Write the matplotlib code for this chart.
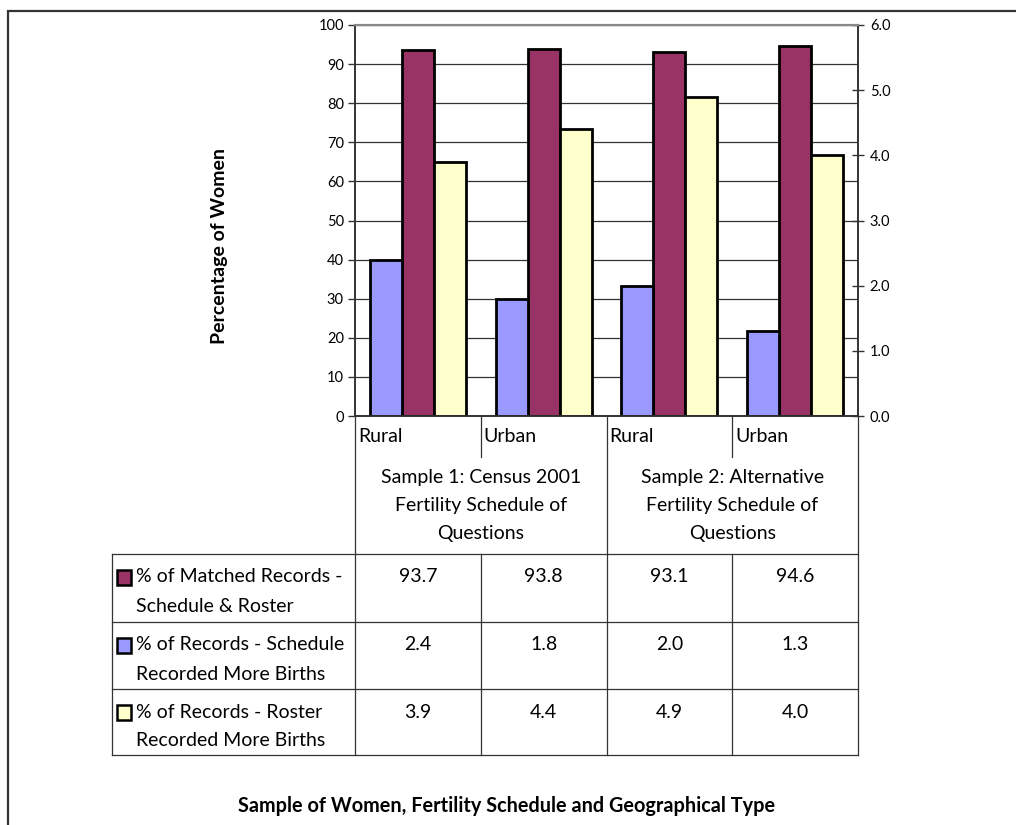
import numpy as np
import matplotlib.pyplot as plt
from matplotlib.transforms import blended_transform_factory
from matplotlib.patches import Rectangle

plt.rcParams['font.family'] = ['Lato', 'DejaVu Sans']

# data
places = ['Rural', 'Urban', 'Rural', 'Urban']
samples = ['Sample 1: Census 2001\nFertility Schedule of\nQuestions',
           'Sample 2: Alternative\nFertility Schedule of\nQuestions']
matched = [93.7, 93.8, 93.1, 94.6]          # left axis (%)
sched_more = [2.4, 1.8, 2.0, 1.3]           # right axis
roster_more = [3.9, 4.4, 4.9, 4.0]          # right axis
series_names = ['% of Matched Records -\nSchedule & Roster',
                '% of Records - Schedule\nRecorded More Births',
                '% of Records - Roster\nRecorded More Births']
colors = ['#993366', '#9999FF', '#FFFFCC']

W, H = 1016, 825
fig = plt.figure(figsize=(W / 100, H / 100), dpi=100)

# pixel overlay for frame, table and titles
ov = fig.add_axes([0, 0, 1, 1])
ov.set_xlim(0, W)
ov.set_ylim(H, 0)
ov.axis('off')

# plot area in pixels
L, R, T, B = 355, 858, 25, 416
ax = fig.add_axes([L / W, 1 - B / H, (R - L) / W, (B - T) / H])
ax2 = ax.twinx()

x = np.arange(len(places))
bw = 0.254
ax2.bar(x - bw, sched_more, bw, color=colors[1], edgecolor='black', linewidth=2)
ax.bar(x, matched, bw, color=colors[0], edgecolor='black', linewidth=2, zorder=3)
ax2.bar(x + bw, roster_more, bw, color=colors[2], edgecolor='black', linewidth=2)

ax.set_xlim(-0.5, len(places) - 0.5)
ax.set_ylim(0, 100)
ax.set_yticks(np.arange(0, 101, 10))
ax2.set_ylim(0, 6)
ax2.set_yticks(np.arange(0, 6.1, 1))
ax2.set_yticklabels(['%.1f' % v for v in np.arange(0, 6.1, 1)])
ax.set_xticks([])
ax.yaxis.grid(True, color='#333333', linewidth=0.9)
ax.set_axisbelow(True)
ax.tick_params(axis='y', direction='out', length=5, width=1, color='#333333',
               labelsize=10.5, pad=3)
ax2.tick_params(axis='y', direction='inout', length=9, width=1, color='#333333',
                labelsize=10.5, pad=4)
for a in (ax, ax2):
    for side in ('left', 'right', 'bottom'):
        a.spines[side].set_color('#333333')
        a.spines[side].set_linewidth(1.2)
    a.spines['top'].set_color('#888888')
    a.spines['top'].set_linewidth(1.5)

# table below the chart: x in data coords, y in pixels
tr = blended_transform_factory(ax.transData, ov.transData)
lc, lw = '#333333', 0.9
fs = 14
edges = np.arange(len(places) + 1) - 0.5
tab_top, rows = 554, [622, 689, 755]

# category row and group row separators
for e in edges:
    if e in (edges[0], edges[2], edges[-1]):
        ov.plot([e, e], [B, rows[-1]], color=lc, lw=lw, transform=tr, clip_on=False)
    else:
        ov.plot([e, e], [B, 457], color=lc, lw=lw, transform=tr, clip_on=False)
        ov.plot([e, e], [tab_top, rows[-1]], color=lc, lw=lw, transform=tr, clip_on=False)
for i, p in enumerate(places):
    ov.text(edges[i] + 0.022, 437, p, transform=tr, ha='left', va='center', fontsize=fs)
for g, s in enumerate(samples):
    for k, line in enumerate(s.split('\n')):
        ov.text(2 * g + 0.5, 477 + 28.5 * k, line, transform=tr, ha='center',
                va='center', fontsize=fs)

# data table grid
ov.plot([112, R], [tab_top, tab_top], color=lc, lw=lw)
for r in rows:
    ov.plot([112, R], [r, r], color=lc, lw=lw)
ov.plot([112, 112], [tab_top, rows[-1]], color=lc, lw=lw)

table_vals = [matched, sched_more, roster_more]
row_tops = [tab_top] + rows[:-1]
for j, (name, vals) in enumerate(zip(series_names, table_vals)):
    y0 = row_tops[j] + 23
    ov.add_patch(Rectangle((117, y0 - 7.5), 14, 15, facecolor=colors[j],
                           edgecolor='black', lw=1.8))
    l1, l2 = name.split('\n')
    ov.text(136, y0, l1, ha='left', va='center', fontsize=fs)
    ov.text(136, y0 + 29, l2, ha='left', va='center', fontsize=fs)
    for i, v in enumerate(vals):
        ov.text(x[i], y0, '%.1f' % v, transform=tr, ha='center', va='center', fontsize=fs)

# titles
ov.text(219, 246, 'Percentage of Women', rotation=90, ha='center', va='center',
        fontsize=14, fontweight='bold')
ov.text(507, 806, 'Sample of Women, Fertility Schedule and Geographical Type',
        ha='center', va='center', fontsize=14.3, fontweight='bold')

# outer frame
ov.plot([8, 8, W], [H, 11, 11], color='#333333', lw=1.6, solid_joinstyle='miter')

fig.savefig('out.png', dpi=100)
